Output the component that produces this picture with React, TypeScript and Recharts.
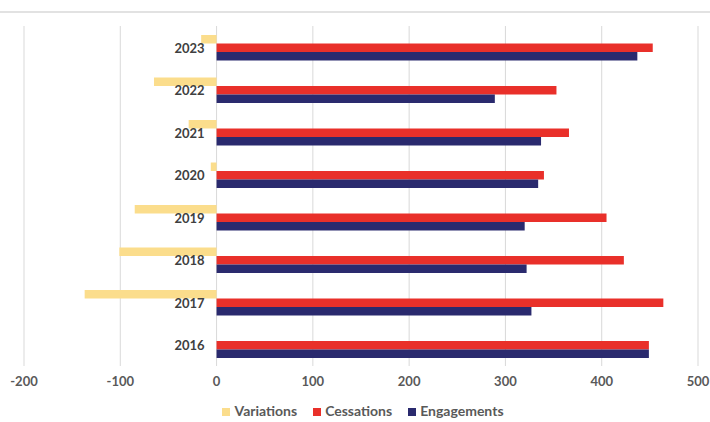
import React from "react";
import {
  BarChart,
  Bar,
  XAxis,
  YAxis,
  CartesianGrid,
  Legend,
  LabelList,
} from "recharts";

const years = ["2023", "2022", "2021", "2020", "2019", "2018", "2017", "2016"];
const variations = [-16, -65, -29, -6, -85, -101, -137, 0];
const cessations = [453, 353, 366, 340, 405, 423, 464, 449];
const engagements = [437, 289, 337, 334, 320, 322, 327, 449];
const xTicks = [-200, -100, 0, 100, 200, 300, 400, 500];
const seriesOrder = ["Variations", "Cessations", "Engagements"];

const data = years.map((year, i) => ({
  year,
  Variations: variations[i],
  Cessations: cessations[i],
  Engagements: engagements[i],
}));

const font = "Lato, 'Open Sans', sans-serif";

function YearLabel(props: any) {
  const { x, y, height, value } = props;
  return (
    <text
      x={x - 12}
      y={y + height / 2}
      textAnchor="end"
      dominantBaseline="central"
      fill="#404040"
      fontSize={13}
      fontWeight="bold"
      fontFamily={font}
    >
      {value}
    </text>
  );
}

export default function App() {
  return (
    <div
      style={{
        position: "fixed",
        left: 0,
        top: 0,
        width: 710,
        height: 422,
        background: "#fff",
        fontFamily: font,
      }}
    >
      <div
        style={{
          position: "absolute",
          left: 0,
          top: 11,
          width: 710,
          height: 2,
          background: "#e2e2e2",
        }}
      />
      <BarChart
        width={710}
        height={422}
        data={data}
        layout="vertical"
        margin={{ top: 26, right: 12, bottom: 3, left: 24 }}
        barSize={8.5}
        barGap={0}
      >
        <CartesianGrid horizontal={false} stroke="#d9d9d9" />
        <XAxis
          type="number"
          domain={[-200, 500]}
          ticks={xTicks}
          interval={0}
          axisLine={false}
          tickLine={false}
          tickMargin={5}
          tick={{ fill: "#595959", fontSize: 13, fontWeight: "bold", fontFamily: font }}
          height={36}
        />
        <YAxis type="category" dataKey="year" hide />
        <Legend
          verticalAlign="bottom"
          iconType="square"
          iconSize={8}
          itemSorter={(item: any) => seriesOrder.indexOf(item.value)}
          wrapperStyle={{
            fontSize: 14,
            fontWeight: "bold",
            color: "#595959",
            paddingLeft: 20,
            boxSizing: "border-box",
          }}
          formatter={(value: string) => (
            <span style={{ color: "#595959", marginRight: 6 }}>{value}</span>
          )}
        />
        <Bar dataKey="Variations" fill="#FBDD8C" isAnimationActive={false} />
        <Bar dataKey="Cessations" fill="#E9302A" isAnimationActive={false}>
          <LabelList dataKey="year" content={YearLabel} />
        </Bar>
        <Bar dataKey="Engagements" fill="#2A2A6E" isAnimationActive={false} />
      </BarChart>
    </div>
  );
}
